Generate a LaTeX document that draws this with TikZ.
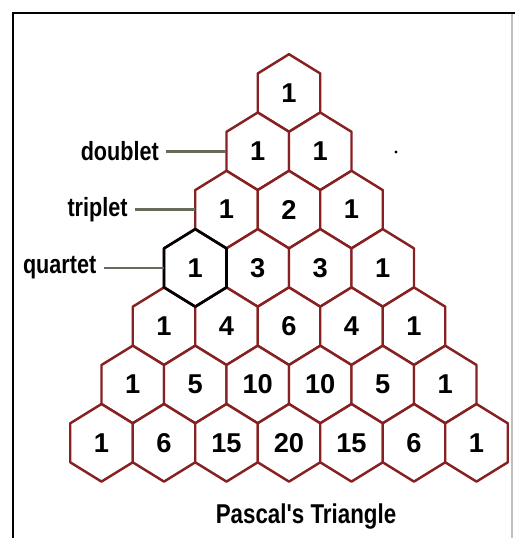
\documentclass[tikz,border=0pt]{standalone}
\usepackage{fontspec}
\setmainfont{Liberation Sans}
\newfontfamily\narrowfont{Liberation Sans}[FakeStretch=0.82]
\usepackage{xcolor}
\usepackage{tikz}
\usetikzlibrary{positioning}

\definecolor{hexred}{RGB}{135,32,32}
\definecolor{tickgray}{RGB}{105,105,92}

\begin{document}
\begin{tikzpicture}[
    x=0.02cm, y=-0.02cm,
    num/.style={rectangle, inner sep=0pt, minimum width=1.25cm, minimum height=0.78cm,
                font=\fontsize{15.5}{17}\selectfont\bfseries},
    hex/.style={draw=hexred, line width=1.4pt, line join=round, fill=white},
    quart/.style={draw=black, line width=1.5pt, line join=round},
    lbl/.style={inner ysep=0pt, inner xsep=4pt, font=\narrowfont\fontsize{15}{17}\selectfont\bfseries},
    tick/.style={draw=tickgray, line width=1.4pt},
    title/.style={font=\narrowfont\fontsize{15.5}{17}\selectfont\bfseries}
]
\useasboundingbox (0,0) rectangle (515,538);

% frame
\draw[line width=1.7pt] (13,538) -- (13,13) -- (515,13);
\draw[black!25, line width=0.6pt] (512,14) -- (512,538);

% hexagon rows
\foreach \r/\vals in {0/{1}, 1/{1,1}, 2/{1,2,1}, 3/{1,3,3,1}, 4/{1,4,6,4,1},
                      5/{1,5,10,10,5,1}, 6/{1,6,15,20,15,6,1}} {
  \foreach \v [count=\k from 0] in \vals {
    \node[num] (h\r\k) at ({289+(\k-\r/2)*62.5}, {93+\r*58.3}) {};
    \draw[hex] (h\r\k.center) ++(-31.25,-19.5) -- ++(31.25,-19.3) -- ++(31.25,19.3)
      -- ++(0,39) -- ++(-31.25,19.3) -- ++(-31.25,-19.3) -- cycle;
    \node[num] at (h\r\k) {\v};
  }
}
\draw[quart] (h30.center) ++(-31.25,-19.5) -- ++(31.25,-19.3) -- ++(31.25,19.3)
  -- ++(0,39) -- ++(-31.25,19.3) -- ++(-31.25,-19.3) -- cycle;

% labels
\node[lbl, left=1.2cm of h10] (dbl) {doublet};
\node[lbl, left=1.2cm of h20] (tpl) {triplet};
\node[lbl, left=1.2cm of h30] (qrt) {quartet};
\draw[tick] (dbl.east) -- (h10.west);
\draw[tick] (tpl.east) -- (h20.west);
\draw[tick] (qrt.east) -- (h30.west);

\fill (396,152) circle (1.6);

\node[title] (ttl) at (306,517) {Pascal's Triangle};
\end{tikzpicture}
\end{document}
